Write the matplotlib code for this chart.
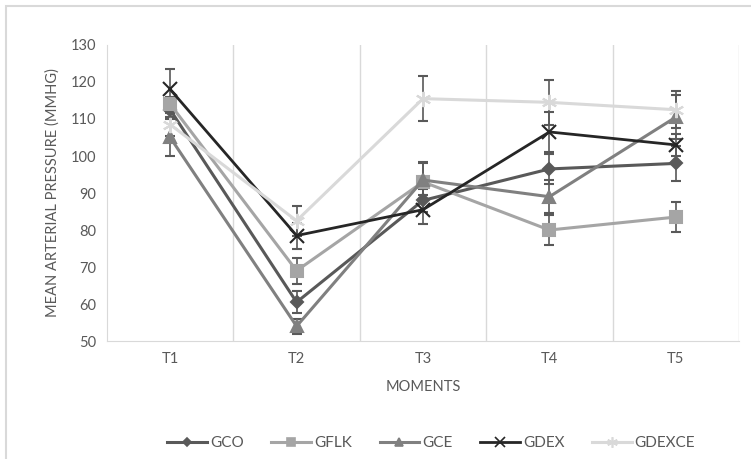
import matplotlib.pyplot as plt
from matplotlib.lines import Line2D
from matplotlib.patches import Rectangle

plt.rcParams['font.family'] = ['Lato', 'DejaVu Sans']

moments = ['T1', 'T2', 'T3', 'T4', 'T5']

gco = [112.5, 60.5, 88, 96.5, 98]
gflk = [114, 69, 93, 80, 83.5]
gce = [105, 54, 93.5, 89, 110.5]
gdex = [118, 78.5, 85.5, 106.5, 103]
gdexce = [108.5, 82.5, 115.5, 114.5, 112.5]

gco_err = [2, 3, 3, 4, 4.7]
gflk_err = [2, 3.5, 5, 4, 4]
gce_err = [5, 2, 5, 4.5, 6]
gdex_err = [5.5, 3.5, 4, 5.5, 3]
gdexce_err = [3, 4, 6, 6, 5]

series = [
    ('GCO', gco, gco_err, '#595959', 'D', 6, 2.2),
    ('GFLK', gflk, gflk_err, '#a5a5a5', 's', 8, 2.2),
    ('GCE', gce, gce_err, '#808080', '^', 8, 2.2),
    ('GDEX', gdex, gdex_err, '#262626', 'x', 10, 2.0),
    ('GDEXCE', gdexce, gdexce_err, '#d9d9d9', (6, 2, 0), 11, 2.2),
]

fig = plt.figure(figsize=(7.51, 4.59), dpi=100)
ax = fig.add_axes([0.1425, 0.257, 0.8415, 0.645])

x = list(range(1, len(moments) + 1))
handles = []
for name, vals, err, col, mk, ms, lw in series:
    ax.errorbar(x, vals, yerr=err, color=col, ecolor='#595959', elinewidth=1.2,
                capsize=3.5, capthick=1.2, marker=mk, markersize=ms,
                markeredgewidth=1.5, linewidth=lw)
    handles.append(Line2D([], [], color=col, marker=mk, markersize=ms * 0.7,
                          markeredgewidth=1.2, linewidth=lw, label=name))

ax.set_xlim(0.5, 5.5)
ax.set_ylim(50, 130)
ax.set_yticks(range(50, 131, 10))
ax.set_xticks(x)
ax.set_xticklabels(moments)
for b in [1.5, 2.5, 3.5, 4.5, 5.5]:
    ax.axvline(b, color='#d9d9d9', linewidth=1, zorder=0)
for s in ['top', 'right']:
    ax.spines[s].set_visible(False)
ax.spines['left'].set_color('#d9d9d9')
ax.spines['bottom'].set_color('#d9d9d9')
ax.tick_params(length=0, colors='#595959', labelsize=10.5, pad=8)
ax.set_ylabel('MEAN ARTERIAL PRESSURE (MMHG)', color='#595959', fontsize=10.5, labelpad=8)
ax.set_xlabel('MOMENTS', color='#595959', fontsize=10.5, labelpad=10)

ax.legend(handles=handles, loc='upper center', bbox_to_anchor=(0.513, -0.275), ncol=5,
          frameon=False, fontsize=11, labelcolor='#595959', handlelength=2.6,
          columnspacing=1.8, handletextpad=0.2)

fig.patches.append(Rectangle((6 / 751, -0.1), 1.2, 1.1 - 6 / 459,
                             transform=fig.transFigure, fill=False,
                             edgecolor='#d9d9d9', linewidth=1.5))

fig.savefig('out.png', dpi=100)
